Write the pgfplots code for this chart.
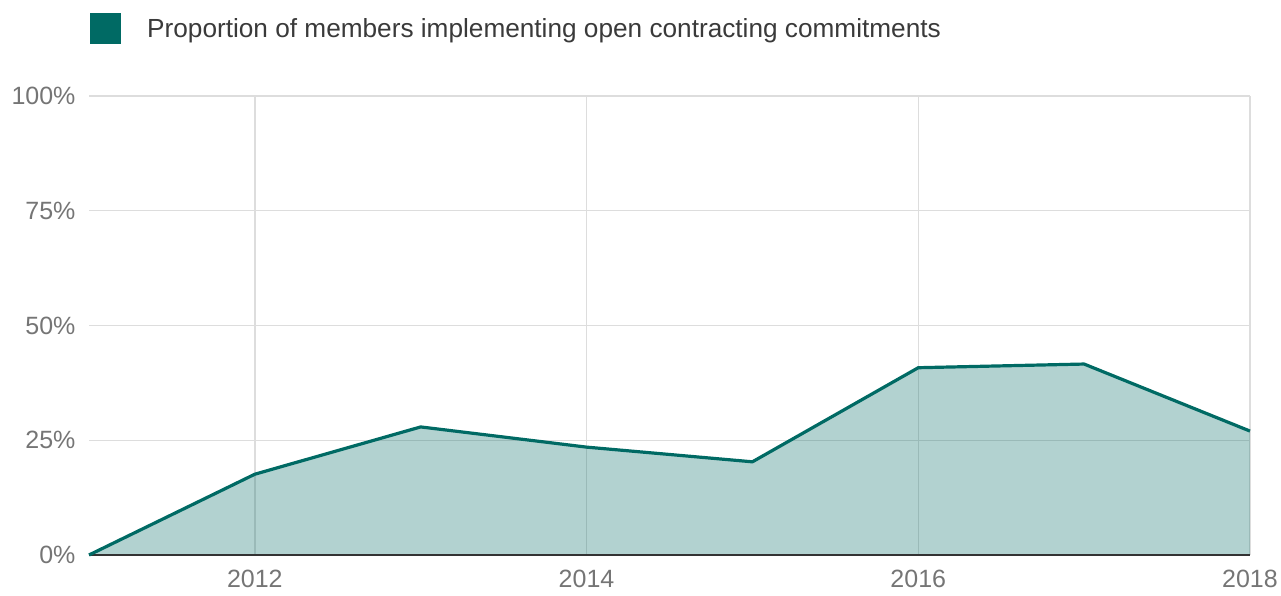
\documentclass[border=0pt]{standalone}
\usepackage{pgfplots}
\pgfplotsset{compat=1.18}
\usepackage{fontspec}
\setmainfont{Liberation Sans}
\definecolor{teal1}{HTML}{006A64}
\definecolor{gridc}{HTML}{DDDDDD}
\definecolor{tickc}{HTML}{757575}
\definecolor{legc}{HTML}{3A3A3A}
\begin{document}
\begin{tikzpicture}[x=1bp,y=1bp]
\useasboundingbox (0,0) rectangle (1281,596);
\fill[teal1] (90,552) rectangle (121,583);
\node[anchor=base west, inner sep=0pt, text=legc, font=\fontsize{26.2bp}{30bp}\selectfont] at (147,558) {Proportion of members implementing open contracting commitments};
\begin{axis}[
  at={(89bp,41bp)}, anchor=south west,
  scale only axis, width=1161bp, height=459bp,
  xmin=2011, xmax=2018, ymin=0, ymax=100,
  xtick={2012,2014,2016,2018},
  ytick={0,25,50,75,100},
  yticklabel={\pgfmathprintnumber{\tick}\%},
  /pgf/number format/1000 sep={},
  /pgf/number format/assume math mode=true,
  major tick length=0pt,
  grid=major,
  grid style={gridc, line width=1.4bp},
  axis line style={draw=none},
  tick label style={text=tickc, font=\fontsize{25bp}{28bp}\selectfont},
  xticklabel style={yshift=-12bp},
  yticklabel style={xshift=-10bp},
  clip=false,
]
\addplot[draw=none, fill=teal1, fill opacity=0.3] coordinates {
 (2011,0) (2012,17.6) (2013,27.9) (2014,23.5) (2015,20.3) (2016,40.8) (2017,41.6) (2018,27.0)
} \closedcycle;
\draw[black!80, line width=2bp] (rel axis cs:0,0) -- (rel axis cs:1,0);
\addplot[teal1, line width=3.2bp, line join=round] coordinates {
 (2011,0) (2012,17.6) (2013,27.9) (2014,23.5) (2015,20.3) (2016,40.8) (2017,41.6) (2018,27.0)
};
\end{axis}
\end{tikzpicture}
\end{document}
